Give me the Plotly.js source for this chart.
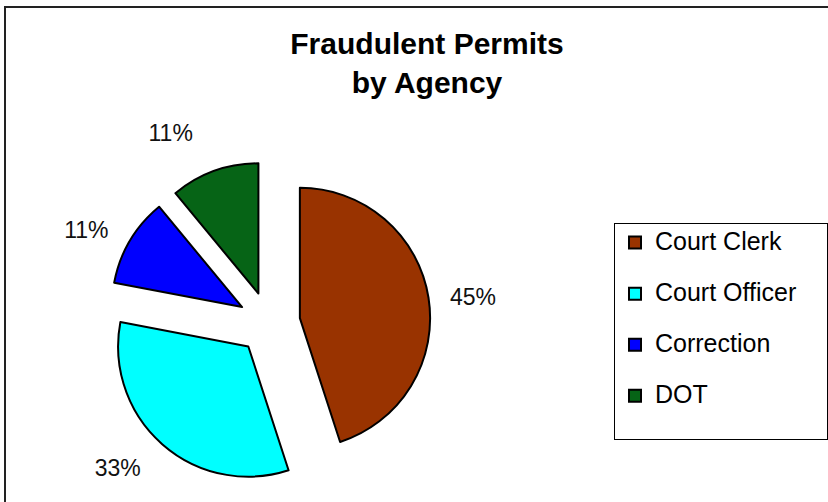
<!DOCTYPE html>
<html>
<head>
<meta charset="utf-8">
<script src="https://cdn.plot.ly/plotly-3.0.1.min.js"></script>
<style>
  html, body { margin: 0; padding: 0; background: #ffffff; }
  #chart { width: 828px; height: 502px; }
</style>
</head>
<body>
<div id="chart"></div>
<script>
// ---- data ----
const agencies = ["Court Clerk", "Court Officer", "Correction", "DOT"];
const shares = [45, 33, 11, 11];
const sliceColors = ["#993300", "#00FFFF", "#0000FF", "#066416"];

// legend labels: larger visible text, extra blank line for Excel-like spacing/width
const legendPad = "&nbsp;".repeat(24);
const legendLabels = agencies.map(a =>
  '<span style="font-size:25px">' + a + '</span><br><span style="font-size:25px">' + legendPad + '</span>');

const W = 828, H = 502;

const trace = {
  type: "pie",
  labels: legendLabels,
  values: shares,
  sort: false,
  direction: "clockwise",
  rotation: 0,
  pull: shares.map(() => 0.24),
  marker: { colors: sliceColors, line: { color: "#000000", width: 2 } },
  texttemplate: "&nbsp;<br>%{percent}<br>&nbsp;",
  textposition: "outside",
  textfont: { family: "Arial, Liberation Sans, sans-serif", size: 23, color: "#111111" },
  outsidetextfont: { family: "Arial, Liberation Sans, sans-serif", size: 23, color: "#111111" },
  hoverinfo: "none",
  automargin: false,
  domain: { x: [107.5 / W, 430.5 / W], y: [1 - 484.5 / H, 1 - 161.5 / H] }
};

const layout = {
  width: W,
  height: H,
  margin: { l: 0, r: 0, t: 0, b: 0 },
  paper_bgcolor: "#ffffff",
  font: { family: "Arial, Liberation Sans, sans-serif", color: "#000000" },
  title: {
    text: "<b>Fraudulent Permits<br>by Agency</b>",
    font: { family: "Arial, Liberation Sans, sans-serif", size: 30, color: "#000000" },
    x: 427 / W,
    xanchor: "center",
    xref: "paper",
    yref: "container",
    y: 1 - 54 / H,
    yanchor: "top"
  },
  showlegend: true,
  legend: {
    x: 614 / W,
    xanchor: "left",
    y: 1 - 223 / H,
    yanchor: "top",
    bgcolor: "#ffffff",
    bordercolor: "#000000",
    borderwidth: 1,
    valign: "top",
    font: { family: "Arial, Liberation Sans, sans-serif", size: 18.5, color: "#000000" }
  },
  shapes: [
    {
      type: "rect", xref: "paper", yref: "paper",
      x0: 5 / W, x1: 1.05, y0: -0.05, y1: 1 - 7 / H,
      line: { color: "#222222", width: 2 },
      fillcolor: "rgba(0,0,0,0)",
      layer: "below"
    }
  ]
};

Plotly.newPlot("chart", [trace], layout, { staticPlot: true, displayModeBar: false });
</script>
</body>
</html>
